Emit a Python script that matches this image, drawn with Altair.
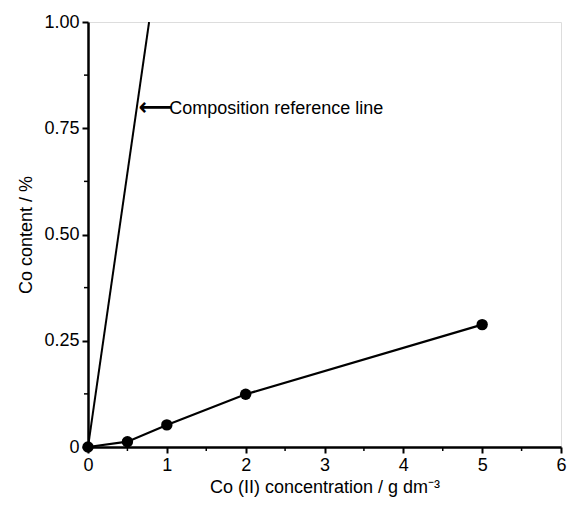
import altair as alt
import pandas as pd

# measured data
conc = [0, 0.5, 1, 2, 5]
content = [0.0, 0.0125, 0.052, 0.124, 0.288]

# composition reference line (through origin to top of plot)
ref_x = [0, 0.775]
ref_y = [0.0, 1.0]

# annotation
arrow_x = [0.64]
arrow_y = [0.795]
label_x = [1.03]
label_text = ["Composition reference line"]

x_major = [0, 1, 2, 3, 4, 5, 6]
y_major = [0, 0.25, 0.5, 0.75, 1.0]
x_minor = [0.5, 1.5, 2.5, 3.5, 4.5, 5.5]
y_minor = [0.125, 0.375, 0.625, 0.875]

W, H = 473, 425
FONT = "Liberation Sans"
FS = 18

df = pd.DataFrame({"x": conc, "y": content})
ref = pd.DataFrame({"x": ref_x, "y": ref_y})

xs = alt.Scale(domain=[0, 6], nice=False, zero=False)
ys = alt.Scale(domain=[0, 1], nice=False, zero=False)

common = dict(grid=False, labelFontSize=FS, titleFontSize=FS, labelFont=FONT, titleFont=FONT,
              titleFontWeight="normal", domainColor="black", domainWidth=2.5,
              tickColor="black", tickWidth=2, tickSize=6, labelColor="black",
              titleColor="black", labelFlush=False)
xaxis = alt.Axis(values=x_major, title="Co (II) concentration / g dm⁻³",
                 labelExpr="format(datum.value, 'd')",
                 labelPadding=3, titlePadding=4, **common)
yaxis = alt.Axis(values=y_major, title="Co content / %",
                 labelExpr="datum.value == 0 ? '0' : format(datum.value, '.2f')",
                 labelPadding=3, titlePadding=8, **common)

base = alt.Chart(df)

line = base.mark_line(color="black", strokeWidth=2.2).encode(
    x=alt.X("x:Q", scale=xs, axis=xaxis),
    y=alt.Y("y:Q", scale=ys, axis=yaxis),
)
pts = base.mark_circle(color="black", opacity=1, size=130).encode(
    x=alt.X("x:Q", scale=xs), y=alt.Y("y:Q", scale=ys)
)
refline = alt.Chart(ref).mark_line(color="black", strokeWidth=2, clip=True).encode(
    x=alt.X("x:Q", scale=xs), y=alt.Y("y:Q", scale=ys)
)

ann = pd.DataFrame({"ax": arrow_x, "ay": arrow_y, "lx": label_x, "t": label_text})
arrow = alt.Chart(ann).mark_text(text="⟵", font="DejaVu Sans", fontSize=24, fontWeight="bold",
                                 align="left", baseline="middle", color="black", dy=-1).encode(
    x=alt.X("ax:Q", scale=xs), y=alt.Y("ay:Q", scale=ys)
)
label = alt.Chart(ann).mark_text(font=FONT, fontSize=FS, align="left",
                                 baseline="middle", color="black").encode(
    x=alt.X("lx:Q", scale=xs), y=alt.Y("ay:Q", scale=ys), text="t:N"
)

xm = alt.Chart(pd.DataFrame({"x": x_minor})).mark_rule(color="black", strokeWidth=1.5).encode(
    x=alt.X("x:Q", scale=xs), y=alt.value(H), y2=alt.value(H + 4)
)
ym = alt.Chart(pd.DataFrame({"y": y_minor})).mark_rule(color="black", strokeWidth=1.5).encode(
    y=alt.Y("y:Q", scale=ys), x=alt.value(-4), x2=alt.value(0)
)

chart = alt.layer(line, refline, pts, arrow, label, xm, ym).properties(
    width=W, height=H,
    autosize=alt.AutoSizeParams(type="none"),
    padding={"left": 80, "top": 14, "right": 8, "bottom": 52},
).configure_view(stroke="black", strokeWidth=2).configure(background="white")

chart.save("out.html", embed_options={"renderer": "svg", "actions": False})
